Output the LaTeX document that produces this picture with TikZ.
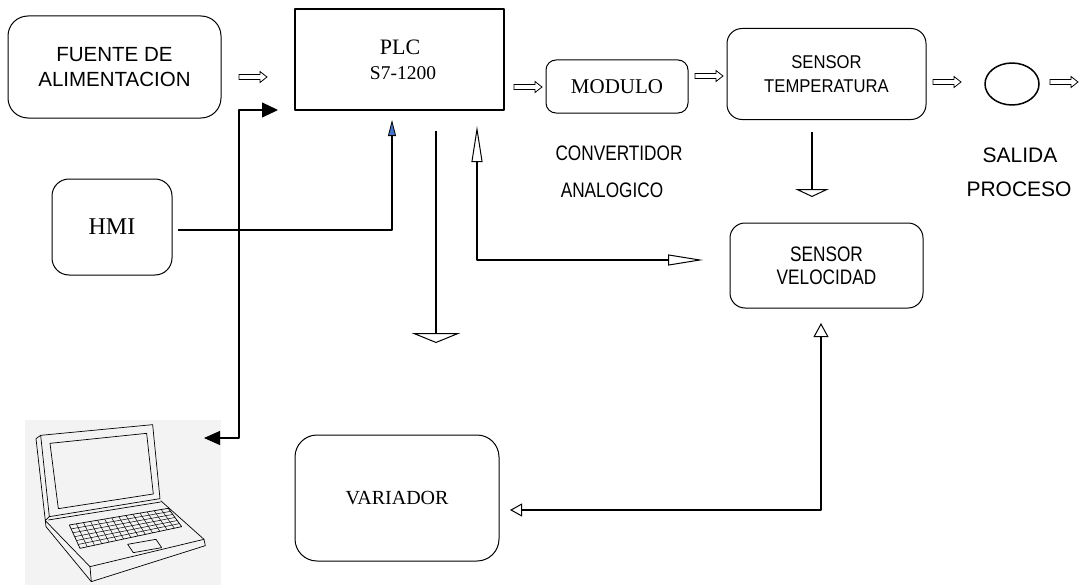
\documentclass[tikz,border=0pt]{standalone}
\usepackage{fontspec}
\setmainfont{Liberation Serif}
\setsansfont{Liberation Sans}
\newfontfamily\sansnarrow[FakeStretch=0.82]{Liberation Sans}
\newfontfamily\sansslim[FakeStretch=0.9]{Liberation Sans}
\usetikzlibrary{arrows.meta,calc,shapes.geometric}
\definecolor{tipblue}{HTML}{4472C4}
\definecolor{photogray}{HTML}{F3F3F3}

\tikzset{
  rbox/.style={draw, line width=1pt, rounded corners=#1, inner sep=0pt, align=center},
  conn/.style={line width=1.1pt},
  pics/hollow/.style={code={
    \draw[line width=0.8pt, line join=miter]
      (0,-2.5) -- (21,-2.5) -- (21,-5.5) -- (28,0) -- (21,5.5) -- (21,2.5) -- (0,2.5) -- cycle;}}
}

\begin{document}
\begin{tikzpicture}[x=1pt, y=-1pt, line join=round]
\fill[white] (0,0) rectangle (1079,586);
\useasboundingbox (0,0) rectangle (1079,586);

% ---- laptop picture backdrop ----
\fill[photogray] (25,420) rectangle (221,585);

% ---- blocks ----
\node[rbox=20pt, minimum width=213pt, minimum height=102pt,
      font=\sffamily\fontsize{20.5}{25}\selectfont] (fuente) at (114.5,67) {FUENTE DE\\ALIMENTACION};
\node[draw, line width=1.2pt, inner sep=0pt, minimum width=209pt, minimum height=101pt] (plc) at (399.5,59.5) {};
\node[anchor=base, inner sep=0pt, font=\rmfamily\fontsize{22}{25}\selectfont] (plcname) at (400,55) {PLC};
\node[anchor=base, inner sep=0pt, font=\rmfamily\fontsize{19.5}{25}\selectfont] (plcmodel) at (403,80) {S7-1200};
\node[rbox=10pt, minimum width=142pt, minimum height=53pt,
      font=\rmfamily\fontsize{21}{25}\selectfont] (modulo) at (617,86.5) {MODULO};
\node[rbox=15pt, minimum width=199pt, minimum height=91pt,
      font=\sansslim\fontsize{18.5}{24}\selectfont] (temp) at (826.5,74) {SENSOR\\TEMPERATURA};
\node[draw, ellipse, line width=1.5pt, minimum width=54pt, minimum height=42pt, inner sep=0pt] (salida) at (1012,84) {};
\node[rbox=15pt, minimum width=193pt, minimum height=85pt,
      font=\sansnarrow\fontsize{21}{23}\selectfont] (vel) at (826.5,265.5) {SENSOR\\VELOCIDAD};
\node[rbox=17pt, minimum width=120pt, minimum height=96pt,
      font=\rmfamily\fontsize{24}{28}\selectfont] (hmi) at (112,227) {HMI};
\node[rbox=22pt, minimum width=204pt, minimum height=126pt,
      font=\rmfamily\fontsize{20}{24}\selectfont] (variador) at (397,498) {VARIADOR};

% ---- free labels ----
\node[anchor=base, inner sep=0pt, font=\sansnarrow\fontsize{21}{25}\selectfont] (conv1) at (619,160) {CONVERTIDOR};
\node[anchor=base, inner sep=0pt, font=\sansnarrow\fontsize{21}{25}\selectfont] (conv2) at (612,197) {ANALOGICO};
\node[anchor=base, inner sep=0pt, font=\sffamily\fontsize{21}{25}\selectfont] (sal1) at (1020,162) {SALIDA};
\node[anchor=base, inner sep=0pt, font=\sffamily\fontsize{21}{25}\selectfont] (sal2) at (1019,196) {PROCESO};

% ---- outline flow arrows along the top row ----
\pic at (239,77) {hollow};
\pic at (514,87) {hollow};
\pic at (695,76) {hollow};
\pic at (933,82) {hollow};
\pic at (1050,82) {hollow};

% ---- connector end points ----
\coordinate (hmiout) at (178,230);
\coordinate (plcin)  at (392,120);
\coordinate (lapin)  at (204,438);
\coordinate (lbend)  at (239,110);
\coordinate (plcleft) at (278,110);
\coordinate (plcdown) at (436,131);
\coordinate (gnd)    at (436,343);
\coordinate (plcback) at (477,126);
\coordinate (velin)  at (703,260);
\coordinate (tempdown) at (812,132);
\coordinate (tempend)  at (812,197);
\coordinate (varin)  at (510,510);
\coordinate (velbot) at (821,323);

% ---- connectors ----
\draw[conn, -{Triangle[width=8pt, length=16pt, fill=tipblue, line width=0.8pt]}] (hmiout) -| (plcin);
\draw[conn, {Triangle[width=14pt, length=16pt]}-{Triangle[width=15pt, length=16pt]}]
  (lapin) -| (lbend) -- (plcleft);
\draw[conn, -{Triangle[open, line width=1pt, width=49pt, length=10pt]}] (plcdown) -- (gnd);
\draw[conn, {Triangle[open, line width=1pt, width=11pt, length=36pt]}-{Triangle[open, line width=1pt, width=11pt, length=35pt]}]
  (plcback) |- (velin);
\draw[conn, -{Triangle[open, line width=1pt, width=34pt, length=8pt]}] (tempdown) -- (tempend);
\draw[conn, {Triangle[open, line width=1pt, width=13pt, length=12pt]}-{Triangle[open, line width=1pt, width=15pt, length=14pt]}]
  (varin) -| (velbot);

% ---- laptop sketch ----
\begin{scope}[shift={(0pt,-380pt)}, x=0.3333pt, y=-0.3333pt, line width=0.7pt, line join=round]
  % lid
  \draw (122,166) -- (458,134) -- (480,356) -- (148,410) -- cycle;
  \draw (108,176) -- (122,166);
  \draw (108,176) -- (136,422) -- (148,410);
  \draw (150,190) -- (440,160) -- (460,342) -- (175,386) -- cycle;
  \draw (145,420) -- (482,366);
  % base
  \draw (136,422) -- (270,560) -- (612,478) -- (482,362);
  \draw (270,560) -- (274,605) -- (616,497) -- (612,478);
  \draw (136,422) -- (138,440) -- (274,605);
  % keyboard
  \coordinate (kTL) at (208,435);
  \coordinate (kTR) at (505,385);
  \coordinate (kBR) at (545,440);
  \coordinate (kBL) at (240,505);
  \draw (kTL) -- (kTR) -- (kBR) -- (kBL) -- cycle;
  \foreach \t in {1,...,13} {
    \draw[line width=0.5pt] ($(kTL)!\t/14!(kTR)$) -- ($(kBL)!\t/14!(kBR)$);
  }
  \foreach \t in {1,...,5} {
    \draw[line width=0.5pt] ($(kTL)!\t/6!(kBL)$) -- ($(kTR)!\t/6!(kBR)$);
  }
  % touchpad
  \draw (383,493) -- (468,478) -- (485,503) -- (400,518) -- cycle;
\end{scope}
\end{tikzpicture}
\end{document}
